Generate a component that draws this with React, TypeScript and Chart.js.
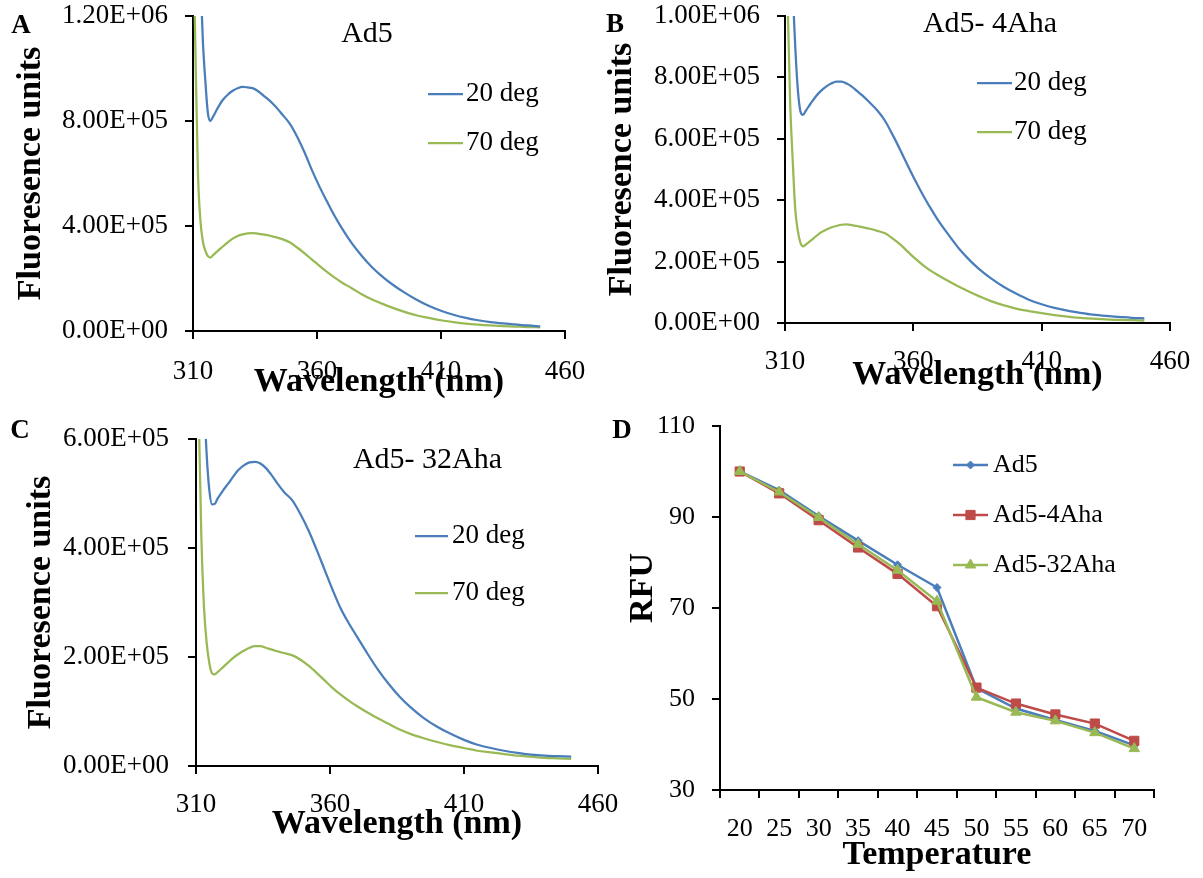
import React, { useEffect, useRef } from 'react';
import { Chart, registerables } from 'chart.js';

Chart.register(...registerables);

const FONT = "'Liberation Serif', 'Times New Roman', Times, serif";
const BLUE = '#4A7EBB';
const GREEN = '#98B954';
const RED = '#BE4B48';

// ---------------- Data ----------------
const WAVELENGTH_NM = [
  310, 311, 312, 313, 314, 315, 316, 317, 318,
  320, 322, 324, 326, 328, 330, 332, 334, 336, 338, 340,
  343, 346, 349, 352, 355, 358, 361, 364, 367, 370,
  374, 378, 382, 386, 390,
  395, 400, 405, 410, 415, 420, 425, 430, 435, 440, 445, 450,
];
const SPECTRUM_LABELS = ['20 deg', '70 deg'];
const UNIT = 1000; // values below are in thousands of fluorescence units

const AD5_20 = [
  2600, 2100, 1700, 1350, 1100, 950, 830, 800, 815,
  850, 880, 900, 915, 925, 930, 928, 925, 915, 900, 885,
  858, 825, 790, 740, 680, 612, 550, 494, 440, 392,
  335, 287, 245, 210, 180,
  148, 120, 96, 77, 62, 50, 41, 34, 29, 25, 21, 18,
];
const AD5_70 = [
  1600, 1050, 600, 420, 340, 305, 285, 280, 288,
  305, 322, 338, 352, 362, 368, 372, 373, 371, 368, 365,
  358, 350, 338, 318, 296, 272, 248, 225, 204, 185,
  163, 140, 121, 105, 90,
  74, 60, 50, 41, 34, 28, 24, 21, 19, 17, 15, 14,
];
const AHA4_20 = [
  2200, 1800, 1400, 1100, 900, 760, 690, 678, 690,
  715, 738, 756, 770, 780, 786, 786, 780, 770, 756, 742,
  718, 692, 658, 612, 562, 510, 460, 413, 370, 330,
  284, 240, 204, 173, 147,
  119, 96, 76, 61, 49, 40, 33, 27, 23, 20, 17, 15,
];
const AHA4_70 = [
  1500, 1050, 720, 530, 370, 300, 262, 250, 255,
  268, 282, 295, 304, 311, 316, 320, 321, 319, 316, 312,
  307, 300, 292, 275, 255, 231, 208, 187, 169, 154,
  135, 117, 101, 86, 72,
  58, 47, 39, 32, 26, 21, 17, 14, 12, 10, 9, 8,
];
const AHA32_20 = [
  1400, 1100, 850, 680, 570, 505, 480, 481, 490,
  505, 518, 532, 544, 552, 557, 558, 555, 547, 535, 521,
  502, 487, 462, 432, 397, 360, 323, 289, 262, 238,
  206, 176, 150, 127, 108,
  88, 72, 59, 48, 39, 33, 28, 24, 21, 19, 18, 17,
];
const AHA32_70 = [
  1000, 650, 420, 290, 225, 188, 170, 168, 172,
  181, 190, 199, 206, 212, 217, 220, 220, 217, 214, 211,
  207, 203, 195, 184, 171, 157, 143, 131, 120, 110,
  98, 87, 77, 67, 59,
  51, 44, 38, 33, 28, 25, 22, 19, 17, 15, 14, 13,
];

const TEMPERATURES = ['20', '25', '30', '35', '40', '45', '50', '55', '60', '65', '70'];
const RFU_LABELS = ['Ad5', 'Ad5-4Aha', 'Ad5-32Aha'];
const RFU_AD5 = [100, 95.9, 90.2, 84.8, 79.5, 74.5, 52.4, 47.9, 45.4, 43.0, 39.8];
const RFU_AD5_4AHA = [100, 95.2, 89.3, 83.3, 77.5, 70.4, 52.5, 49.0, 46.6, 44.6, 40.8];
const RFU_AD5_32AHA = [100, 95.5, 89.9, 84.0, 78.3, 71.5, 50.4, 47.1, 45.2, 42.6, 39.1];

// ---------------- Helpers ----------------
function sci(v: number): string {
  if (v === 0) return '0.00E+00';
  const [m, e] = v.toExponential(2).split('e');
  const n = parseInt(e, 10);
  return m + 'E' + (n < 0 ? '-' : '+') + String(Math.abs(n)).padStart(2, '0');
}

function drawMarker(ctx: CanvasRenderingContext2D, style: string, x: number, y: number, r: number, color: string) {
  ctx.fillStyle = color;
  ctx.strokeStyle = color;
  ctx.lineWidth = 1;
  ctx.beginPath();
  if (style === 'rect') {
    const s = r * Math.SQRT1_2;
    ctx.rect(x - s, y - s, 2 * s, 2 * s);
  } else if (style === 'rectRot') {
    ctx.moveTo(x, y - r);
    ctx.lineTo(x + r, y);
    ctx.lineTo(x, y + r);
    ctx.lineTo(x - r, y);
    ctx.closePath();
  } else if (style === 'triangle') {
    ctx.moveTo(x, y - r);
    ctx.lineTo(x + 0.866 * r, y + 0.5 * r);
    ctx.lineTo(x - 0.866 * r, y + 0.5 * r);
    ctx.closePath();
  } else {
    ctx.arc(x, y, r, 0, Math.PI * 2);
  }
  ctx.fill();
  ctx.stroke();
}

type LegendCfg = { x0: number; x1: number; textX: number; rows: number[]; size: number };
type Box = { x: number; y: number; w: number; h: number };

function makeLegendPlugin(cfg: LegendCfg, box: Box) {
  return {
    id: 'insideLegend',
    afterDraw(chart: any) {
      const ctx: CanvasRenderingContext2D = chart.ctx;
      ctx.save();
      chart.data.datasets.forEach((ds: any, i: number) => {
        const y = cfg.rows[i] - box.y;
        const x0 = cfg.x0 - box.x;
        const x1 = cfg.x1 - box.x;
        ctx.strokeStyle = ds.borderColor;
        ctx.lineWidth = ds.borderWidth;
        ctx.lineCap = 'butt';
        ctx.beginPath();
        ctx.moveTo(x0, y);
        ctx.lineTo(x1, y);
        ctx.stroke();
        if (ds.pointRadius > 0) {
          drawMarker(ctx, ds.pointStyle, (x0 + x1) / 2, y, ds.pointRadius, ds.backgroundColor);
        }
        ctx.fillStyle = '#000';
        ctx.font = `${cfg.size}px ${FONT}`;
        ctx.textAlign = 'left';
        ctx.textBaseline = 'middle';
        ctx.fillText(ds.label, cfg.textX - box.x, y);
      });
      ctx.restore();
    },
  };
}

const PAD_TOP = 40;
const PAD_RIGHT = 45;

type Plot = { l: number; t: number; r: number; b: number; yAxisW: number; xAxisH: number };

function boxFor(p: Plot): Box {
  return {
    x: p.l - p.yAxisW,
    y: p.t - PAD_TOP,
    w: p.r - (p.l - p.yAxisW) + PAD_RIGHT,
    h: p.b + p.xAxisH - (p.t - PAD_TOP),
  };
}

function axisBase(tickSize: number, tickPad: number) {
  return {
    grid: { drawOnChartArea: false, drawTicks: true, tickLength: 8, color: '#000', lineWidth: 2 },
    border: { display: true, color: '#000', width: 2 },
    ticks: {
      color: '#000',
      padding: tickPad,
      font: { family: FONT, size: tickSize },
      maxRotation: 0,
      minRotation: 0,
      autoSkip: false,
    },
  };
}

const TITLE_FONT = { family: FONT, size: 34, weight: 'bold' as const };

// ---------------- Panels ----------------
type SpecPanel = {
  key: string;
  plot: Plot;
  yMax: number;
  yStep: number;
  xTickPad: number;
  yTickPad: number;
  yTitlePad: number;
  s20: number[];
  s70: number[];
  legend: LegendCfg;
};

const SPEC_PANELS: SpecPanel[] = [
  {
    key: 'A',
    plot: { l: 193, t: 16, r: 565, b: 331, yAxisW: 193, xAxisH: 72 },
    yMax: 1200000, yStep: 400000, xTickPad: 17, yTickPad: 17, yTitlePad: 10.6,
    s20: AD5_20, s70: AD5_70,
    legend: { x0: 428, x1: 463, textX: 466, rows: [94, 143], size: 27 },
  },
  {
    key: 'B',
    plot: { l: 785, t: 16, r: 1170, b: 323, yAxisW: 185, xAxisH: 73 },
    yMax: 1000000, yStep: 200000, xTickPad: 15, yTickPad: 17, yTitlePad: 1.6,
    s20: AHA4_20, s70: AHA4_70,
    legend: { x0: 977, x1: 1012, textX: 1014, rows: [83, 132], size: 27 },
  },
  {
    key: 'C',
    plot: { l: 196, t: 439, r: 598, b: 766, yAxisW: 196, xAxisH: 79 },
    yMax: 600000, yStep: 200000, xTickPad: 15, yTickPad: 19, yTitlePad: 20.6,
    s20: AHA32_20, s70: AHA32_70,
    legend: { x0: 415, x1: 448, textX: 452, rows: [536, 593], size: 27 },
  },
];

function buildSpectrum(p: SpecPanel, box: Box) {
  const xb = axisBase(27, p.xTickPad);
  const yb = axisBase(27, p.yTickPad);
  return {
    type: 'line' as const,
    data: {
      datasets: [
        {
          label: SPECTRUM_LABELS[0],
          data: WAVELENGTH_NM.map((x, i) => ({ x, y: p.s20[i] * UNIT })),
          borderColor: BLUE, backgroundColor: BLUE, borderWidth: 2.25,
          pointRadius: 0, cubicInterpolationMode: 'monotone' as const,
        },
        {
          label: SPECTRUM_LABELS[1],
          data: WAVELENGTH_NM.map((x, i) => ({ x, y: p.s70[i] * UNIT })),
          borderColor: GREEN, backgroundColor: GREEN, borderWidth: 2.25,
          pointRadius: 0, cubicInterpolationMode: 'monotone' as const,
        },
      ],
    },
    options: {
      responsive: false,
      maintainAspectRatio: false,
      animation: false as const,
      devicePixelRatio: 1,
      events: [],
      layout: { padding: { top: PAD_TOP, right: PAD_RIGHT, left: 0, bottom: 0 } },
      plugins: { legend: { display: false }, tooltip: { enabled: false }, title: { display: false } },
      scales: {
        x: {
          type: 'linear' as const,
          min: 310, max: 460,
          ...xb,
          ticks: { ...xb.ticks, stepSize: 50, callback: (v: any) => String(v) },
          title: { display: true, text: 'Wavelength (nm)', color: '#000', font: TITLE_FONT, padding: 0 },
          afterFit: (s: any) => { s.height = p.plot.xAxisH; },
        },
        y: {
          type: 'linear' as const,
          min: 0, max: p.yMax,
          ...yb,
          ticks: { ...yb.ticks, stepSize: p.yStep, callback: (v: any) => sci(Number(v)) },
          title: { display: true, text: 'Fluoresence units', color: '#000', font: TITLE_FONT, padding: { top: p.yTitlePad, bottom: 0 } },
          afterFit: (s: any) => { s.width = p.plot.yAxisW; },
        },
      },
    },
    plugins: [makeLegendPlugin(p.legend, box)],
  };
}

const RFU_PLOT: Plot = { l: 720, t: 426, r: 1154, b: 790, yAxisW: 120, xAxisH: 86 };
const RFU_LEGEND: LegendCfg = { x0: 953, x1: 988, textX: 993, rows: [465, 515, 565], size: 26 };

function buildRfu(box: Box) {
  const xb = axisBase(26, 16);
  const yb = axisBase(26, 17);
  const common = { borderWidth: 2.5, tension: 0, pointBorderWidth: 1 };
  return {
    type: 'line' as const,
    data: {
      labels: TEMPERATURES,
      datasets: [
        { label: RFU_LABELS[0], data: RFU_AD5, borderColor: BLUE, backgroundColor: BLUE, pointStyle: 'rectRot', pointRadius: 4, order: 2, ...common },
        { label: RFU_LABELS[1], data: RFU_AD5_4AHA, borderColor: RED, backgroundColor: RED, pointStyle: 'rect', pointRadius: 6.5, order: 1, ...common },
        { label: RFU_LABELS[2], data: RFU_AD5_32AHA, borderColor: GREEN, backgroundColor: GREEN, pointStyle: 'triangle', pointRadius: 6, order: 0, ...common },
      ],
    },
    options: {
      responsive: false,
      maintainAspectRatio: false,
      animation: false as const,
      devicePixelRatio: 1,
      events: [],
      layout: { padding: { top: PAD_TOP, right: PAD_RIGHT, left: 0, bottom: 0 } },
      plugins: { legend: { display: false }, tooltip: { enabled: false }, title: { display: false } },
      scales: {
        x: {
          type: 'category' as const,
          offset: true,
          ...xb,
          grid: { ...xb.grid, offset: true },
          title: { display: true, text: 'Temperature', color: '#000', font: TITLE_FONT, padding: 0 },
          afterFit: (s: any) => { s.height = RFU_PLOT.xAxisH; },
        },
        y: {
          type: 'linear' as const,
          min: 30, max: 110,
          ...yb,
          ticks: { ...yb.ticks, stepSize: 20 },
          title: { display: false, text: 'RFU' },
          afterFit: (s: any) => { s.width = RFU_PLOT.yAxisW; },
        },
      },
    },
    plugins: [makeLegendPlugin(RFU_LEGEND, box)],
  };
}

const TEXTS = [
  { t: 'A', x: 21, y: 23.5, size: 27, bold: true, rot: false },
  { t: 'B', x: 615, y: 22.5, size: 27, bold: true, rot: false },
  { t: 'C', x: 20, y: 429, size: 27, bold: true, rot: false },
  { t: 'D', x: 622, y: 429, size: 27, bold: true, rot: false },
  { t: 'Ad5', x: 367, y: 32, size: 30, bold: false, rot: false },
  { t: 'Ad5- 4Aha', x: 990, y: 22, size: 30, bold: false, rot: false },
  { t: 'Ad5- 32Aha', x: 427.5, y: 458, size: 30, bold: false, rot: false },
  { t: 'RFU', x: 641, y: 588, size: 34, bold: true, rot: true },
];

// ---------------- Components ----------------
function ChartCanvas({ box, build }: { box: Box; build: () => any }) {
  const ref = useRef<HTMLCanvasElement>(null);
  useEffect(() => {
    if (!ref.current) return;
    const chart = new Chart(ref.current, build());
    return () => chart.destroy();
  }, []);
  return (
    <canvas
      ref={ref}
      width={box.w}
      height={box.h}
      style={{ position: 'absolute', left: box.x, top: box.y, width: box.w, height: box.h }}
    />
  );
}

export default function App() {
  const rfuBox = boxFor(RFU_PLOT);
  return (
    <div
      style={{
        position: 'absolute', left: 0, top: 0, width: 1203, height: 878,
        overflow: 'hidden', background: '#fff', fontFamily: FONT, color: '#000',
      }}
    >
      {SPEC_PANELS.map((p) => {
        const box = boxFor(p.plot);
        return <ChartCanvas key={p.key} box={box} build={() => buildSpectrum(p, box)} />;
      })}
      <ChartCanvas key="D" box={rfuBox} build={() => buildRfu(rfuBox)} />
      {TEXTS.map((tx) => (
        <div
          key={tx.t}
          style={{
            position: 'absolute', left: tx.x, top: tx.y,
            transform: tx.rot ? 'translate(-50%, -50%) rotate(-90deg)' : 'translate(-50%, -50%)',
            fontSize: tx.size, fontWeight: tx.bold ? 'bold' : 'normal', lineHeight: 1,
            whiteSpace: 'nowrap', fontFamily: FONT,
          }}
        >
          {tx.t}
        </div>
      ))}
    </div>
  );
}
